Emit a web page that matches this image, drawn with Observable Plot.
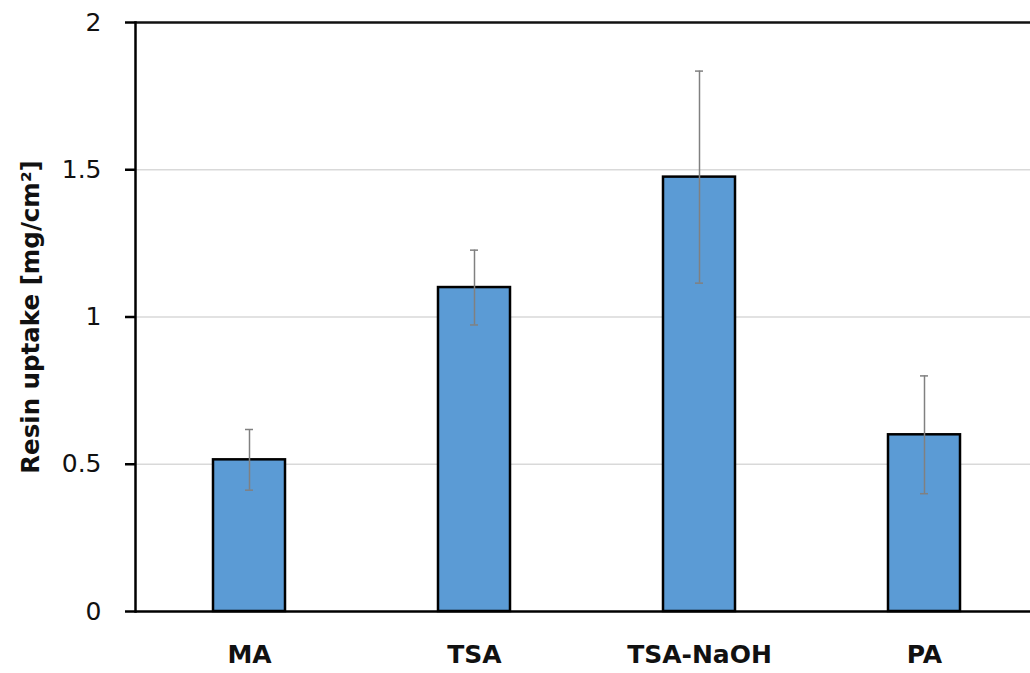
<!DOCTYPE html>
<html>
<head>
<meta charset="utf-8">
<script src="https://cdn.jsdelivr.net/npm/d3@7"></script>
<script src="https://cdn.jsdelivr.net/npm/@observablehq/plot@0.6"></script>
<style>
  html, body { margin: 0; padding: 0; background: #fff; }
  #chart svg { display: block; }
</style>
</head>
<body>
<div id="chart"></div>
<script>
const categories = ["MA", "TSA", "TSA-NaOH", "PA"];
const values = [0.515, 1.10, 1.475, 0.60];
const errors = [0.103, 0.127, 0.36, 0.20];
const yTicks = [0, 0.5, 1, 1.5, 2];
const yTitle = "Resin uptake [mg/cm²]";

const data = categories.map((c, i) => ({
  cat: c, v: values[i], lo: values[i] - errors[i], hi: values[i] + errors[i]
}));

const fontFamily = "'DejaVu Sans', sans-serif";

const chart = Plot.plot({
  width: 1030,
  height: 673,
  marginLeft: 135,
  marginRight: -7,
  marginTop: 22,
  marginBottom: 62,
  style: { fontFamily, fontSize: "25px", color: "#111", background: "#fff", overflow: "hidden" },
  x: { domain: categories, paddingInner: 0.68, paddingOuter: 0.34, axis: null },
  y: { domain: [0, 2], axis: null },
  marks: [
    Plot.gridY(yTicks.filter(d => d > 0 && d < 2), { stroke: "#d9d9d9", strokeOpacity: 1, strokeWidth: 1.5 }),
    Plot.ruleY([2], { stroke: "#111", strokeWidth: 2.5 }),
    Plot.barY(data, { x: "cat", y: "v", fill: "#5B9BD5", stroke: "#000", strokeWidth: 2.5 }),
    Plot.ruleX(data, { x: "cat", y1: "lo", y2: "hi", stroke: "#808080", strokeWidth: 1.5 }),
    Plot.tickY(data, { x: "cat", y: "hi", stroke: "#808080", strokeWidth: 1.5, insetLeft: 32, insetRight: 32 }),
    Plot.tickY(data, { x: "cat", y: "lo", stroke: "#808080", strokeWidth: 1.5, insetLeft: 32, insetRight: 32 }),
    Plot.ruleY([0], { stroke: "#000", strokeWidth: 2.5 }),
    Plot.frame({ anchor: "left", stroke: "#000", strokeWidth: 2.5 }),
    Plot.axisY({
      ticks: yTicks, tickFormat: d => String(d), tickSize: 10, tickPadding: 24,
      stroke: "#000", strokeWidth: 2.5, fontSize: 25, fill: "#111", label: null
    }),
    Plot.axisX({
      tickSize: 0, tickPadding: 34, fontSize: 25, fontWeight: "bold", fill: "#111", label: null
    }),
    Plot.text([yTitle], {
      frameAnchor: "left", textAnchor: "middle", lineAnchor: "middle", rotate: -90, dx: -104,
      fontSize: 24.5, fontWeight: "bold", fill: "#111"
    })
  ]
});

document.getElementById("chart").appendChild(chart);
</script>
</body>
</html>
